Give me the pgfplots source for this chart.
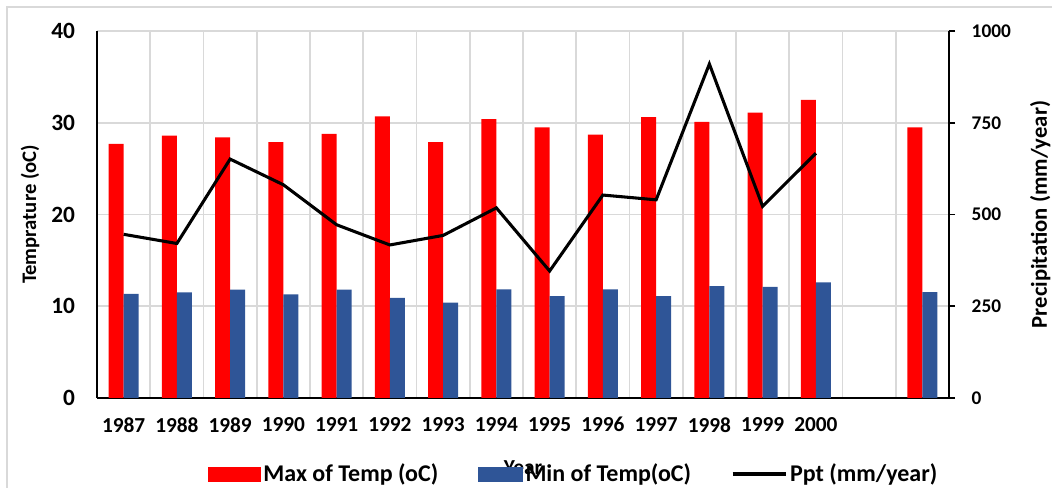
\documentclass[border=0pt]{standalone}
\usepackage{pgfplots}
\pgfplotsset{compat=1.18}
\usepackage{fontspec}
\setmainfont{Carlito}
\definecolor{myred}{RGB}{255,0,0}
\definecolor{myblue}{RGB}{47,85,151}
\definecolor{gridgray}{RGB}{217,217,217}
\begin{document}
\begin{tikzpicture}
\useasboundingbox (-72.75pt,-67.5pt) rectangle (716.25pt,298.5pt);
\draw[gridgray, line width=1.5pt] (-67.5pt,-120pt) rectangle (740pt,293.25pt);
\begin{axis}[
  at={(0,0)}, anchor=south west, scale only axis,
  width=639pt, height=275.25pt,
  xmin=-0.5, xmax=15.5, ymin=0, ymax=40,
  ybar=0pt, bar width=0.28,
  xtick={0,1,2,3,4,5,6,7,8,9,10,11,12,13},
  xticklabels={1987,1988,1989,1990,1991,1992,1993,1994,1995,1996,1997,1998,1999,2000},
  minor xtick={-0.5,0.5,1.5,2.5,3.5,4.5,5.5,6.5,7.5,8.5,9.5,10.5,11.5,12.5,13.5,14.5,15.5},
  xminorgrids=true, xmajorgrids=false,
  ytick={0,10,20,30,40}, ymajorgrids=true,
  grid style={gridgray, line width=1.3pt},
  minor grid style={gridgray, line width=1.3pt},
  major tick length=0pt, minor tick length=0pt,
  axis x line*=bottom, axis y line*=left,
  axis line style={black, line width=1.6pt, -},
  /pgf/number format/assume math mode=true,
  yticklabel style={font=\bfseries\fontsize{17.5}{20}\selectfont, xshift=-13pt},
  xticklabel style={font=\bfseries\fontsize{16}{19}\selectfont, yshift=-11pt},
  ylabel={Temprature (oC)},
  ylabel style={font=\bfseries\fontsize{15.5}{18}\selectfont, at={(axis description cs:-0.0786,0.5)}, anchor=center},
  xlabel={Year},
  xlabel style={font=\bfseries\fontsize{16}{19}\selectfont, at={(axis description cs:0.5,-0.19)}, anchor=center},
]
\addplot[fill=myred, draw=none] coordinates {
(0,27.7) (1,28.6) (2,28.4) (3,27.9) (4,28.8) (5,30.7) (6,27.9) (7,30.4)
(8,29.5) (9,28.7) (10,30.6) (11,30.1) (12,31.1) (13,32.5) (15,29.5)};
\addplot[fill=myblue, draw=none] coordinates {
(0,11.35) (1,11.5) (2,11.8) (3,11.3) (4,11.8) (5,10.9) (6,10.4) (7,11.85)
(8,11.1) (9,11.85) (10,11.1) (11,12.2) (12,12.1) (13,12.6) (15,11.55)};
\end{axis}
\begin{axis}[
  at={(0,0)}, anchor=south west, scale only axis,
  width=639pt, height=275.25pt,
  xmin=-0.5, xmax=15.5, ymin=0, ymax=1000,
  axis x line=none, axis y line*=right,
  axis line style={black, line width=1.6pt, -},
  ytick={0,250,500,750,1000},
  tick align=outside, major tick length=4.5pt,
  ytick style={black, line width=1.3pt},
  /pgf/number format/assume math mode=true,
  /pgf/number format/set thousands separator={},
  yticklabel style={font=\bfseries\fontsize{14.5}{17}\selectfont, xshift=9pt},
  ylabel={Precipitation (mm/year)},
  ylabel style={font=\bfseries\fontsize{17}{20}\selectfont, at={(axis description cs:1.107,0.5)}, anchor=center},
  legend columns=3,
  legend style={at={(axis description cs:0.56,-0.207)}, anchor=center, draw=none, fill=none,
    font=\bfseries\fontsize{18}{21}\selectfont,
    /tikz/every even column/.append style={column sep=28pt}},
]
\addlegendimage{legend image code/.code={\fill[myred] (0pt,-5.25pt) rectangle (39pt,5.25pt);}}
\addlegendentry{Max of Temp (oC)}
\addlegendimage{legend image code/.code={\fill[myblue] (0pt,-5.25pt) rectangle (33pt,5.25pt);}}
\addlegendentry{Min of Temp(oC)}
\addplot[black, line width=2.3pt, legend image code/.code={\draw[black, line width=2.3pt] (0pt,0pt) -- (40pt,0pt);}] coordinates {
(0,446) (1,421) (2,651) (3,581) (4,472) (5,417) (6,443) (7,518)
(8,346) (9,553) (10,540) (11,910) (12,522) (13,667)};
\addlegendentry{Ppt (mm/year)}
\end{axis}
\end{tikzpicture}
\end{document}
